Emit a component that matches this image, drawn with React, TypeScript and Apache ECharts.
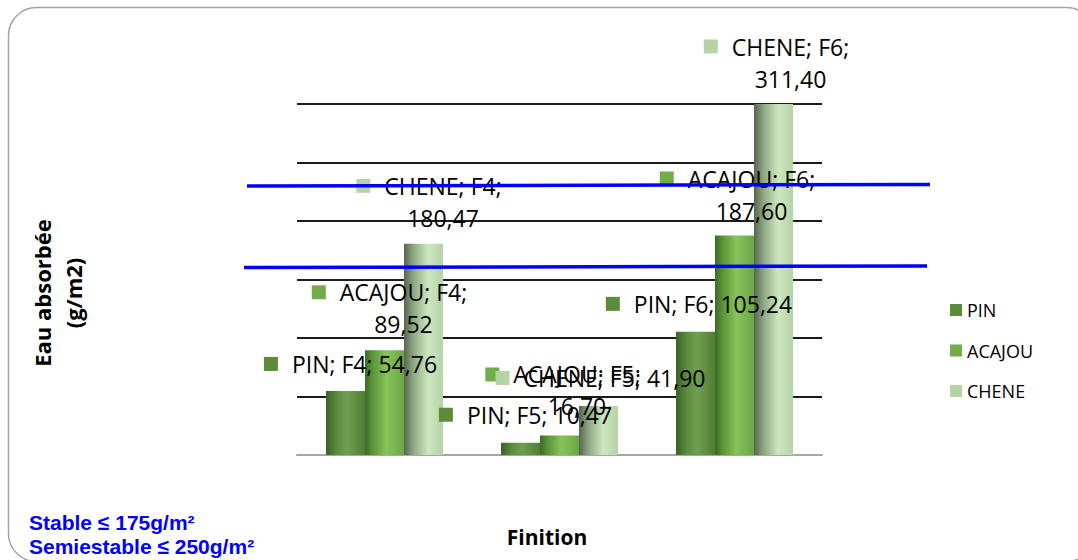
import { useEffect, useRef } from 'react';
import * as echarts from 'echarts';

// ---- data ----
const categories = ['F4', 'F5', 'F6'];
const seriesNames = ['PIN', 'ACAJOU', 'CHENE'];
const pinValues = [54.76, 10.47, 105.24];
const acajouValues = [89.52, 16.7, 187.6];
const cheneValues = [180.47, 41.9, 311.4];
const yMin = 0;
const yMax = 300;
const yInterval = 50;
const yTitle = 'Eau absorbée\n(g/m2)';
const xTitle = 'Finition';
const thresholdNotes = ['Stable ≤ 175g/m²', 'Semiestable ≤ 250g/m²'];

// ---- styles / layout ----
const LEGEND_COLORS: Record<string, string> = {
  PIN: '#5b8c3a',
  ACAJOU: '#70ad47',
  CHENE: '#b6d3a8',
};
const BAR_STOPS: Record<string, [number, string][]> = {
  PIN: [[0, '#3a6226'], [0.3, '#5e8f40'], [0.55, '#6f9f50'], [1, '#4f7d35']],
  ACAJOU: [[0, '#3d6b27'], [0.2, '#5a9538'], [0.55, '#88c35c'], [1, '#6aa744']],
  CHENE: [[0, '#56664e'], [0.25, '#8fa986'], [0.62, '#cde7c0'], [1, '#b5d3a6']],
};
const LABEL_LAYOUT: Record<string, { dx: number; dy: number; wrap: boolean }[]> = {
  PIN: [
    { dx: 5, dy: -27, wrap: false },
    { dx: 5, dy: -28, wrap: false },
    { dx: 3.5, dy: -28, wrap: false },
  ],
  ACAJOU: [
    { dx: 19, dy: -42, wrap: true },
    { dx: 17.5, dy: -45, wrap: true },
    { dx: 17, dy: -41, wrap: true },
  ],
  CHENE: [
    { dx: 19.5, dy: -42, wrap: true },
    { dx: 2, dy: -28, wrap: false },
    { dx: 17, dy: -41.5, wrap: true },
  ],
};
const LABEL_FONT = '"Open Sans", "Noto Sans", sans-serif';

const valuesByName: Record<string, number[]> = {
  PIN: pinValues,
  ACAJOU: acajouValues,
  CHENE: cheneValues,
};

const fmt = (v: number) => v.toFixed(2).replace('.', ',');

export default function App() {
  const ref = useRef<HTMLDivElement>(null);

  useEffect(() => {
    if (!ref.current) return;
    const chart = echarts.init(ref.current, undefined, { renderer: 'svg' });

    const series = seriesNames.map((name) => {
      const stops = BAR_STOPS[name];
      return {
        name,
        type: 'bar',
        barWidth: 39,
        barGap: '0%',
        clip: true,
        itemStyle: {
          color: new echarts.graphic.LinearGradient(
            0, 0, 1, 0,
            stops.map(([offset, color]) => ({ offset, color }))
          ),
        },
        label: {
          show: true,
          position: 'top',
          distance: 0,
          align: 'center',
          verticalAlign: 'middle',
          color: '#000',
          fontFamily: LABEL_FONT,
          fontSize: 23,
          lineHeight: 32,
          formatter: (p: any) => {
            const lay = LABEL_LAYOUT[name][p.dataIndex];
            const txt = `${name}; ${categories[p.dataIndex]};`;
            const val = fmt(p.value);
            if (lay.wrap) {
              return `{sq|}{g|}{t|${txt}}{sp|}\n{t|${val}}`;
            }
            return `{sq|}{g|}{t|${txt} ${val}}`;
          },
          rich: {
            sq: {
              width: 14,
              height: 14,
              backgroundColor: LEGEND_COLORS[name],
              verticalAlign: 'middle',
            },
            g: { width: 14, height: 14 },
            sp: { width: 28, height: 14 },
            t: {
              fontFamily: LABEL_FONT,
              fontSize: 23,
              lineHeight: 32,
              color: '#000',
            },
          },
        },
        data: valuesByName[name].map((v, i) => ({
          value: v,
          label: { offset: [LABEL_LAYOUT[name][i].dx, LABEL_LAYOUT[name][i].dy] },
        })),
      };
    });

    chart.setOption({
      animation: false,
      grid: { left: 297, right: 256, top: 104, bottom: 105, containLabel: false },
      xAxis: {
        type: 'category',
        data: categories,
        axisLabel: { show: false },
        axisTick: { show: false },
        axisLine: { show: true, lineStyle: { color: '#a6a6a6', width: 2 } },
      },
      yAxis: {
        type: 'value',
        min: yMin,
        max: yMax,
        interval: yInterval,
        axisLabel: { show: false },
        axisTick: { show: false },
        axisLine: { show: false },
        splitLine: {
          show: true,
          showMinLine: false,
          lineStyle: { color: '#1a1a1a', width: 2 },
        },
      },
      legend: {
        orient: 'vertical',
        left: 950,
        top: 300,
        padding: 0,
        icon: 'rect',
        itemWidth: 12,
        itemHeight: 12,
        itemGap: 20.5,
        textStyle: {
          fontFamily: LABEL_FONT,
          fontSize: 18,
          lineHeight: 20,
          color: '#000',
        },
        data: seriesNames.map((n) => ({ name: n, itemStyle: { color: LEGEND_COLORS[n] } })),
      },
      graphic: [
        {
          type: 'rect',
          z: -10,
          silent: true,
          shape: { x: 8.5, y: 7.5, width: 1086, height: 554, r: 28 },
          style: { fill: 'none', stroke: '#a3a3a3', lineWidth: 1.5 },
        },
        {
          type: 'line',
          z: 100,
          shape: { x1: 247, y1: 186, x2: 930, y2: 184.5 },
          style: { stroke: '#0000ff', lineWidth: 3.5 },
        },
        {
          type: 'line',
          z: 100,
          shape: { x1: 244, y1: 267.5, x2: 927, y2: 266 },
          style: { stroke: '#0000ff', lineWidth: 3.5 },
        },
        {
          type: 'text',
          x: 57,
          y: 293,
          rotation: Math.PI / 2,
          style: {
            text: yTitle,
            font: 'bold 22px "Open Sans", sans-serif',
            lineHeight: 31,
            align: 'center',
            verticalAlign: 'middle',
            fill: '#000',
          },
        },
        {
          type: 'text',
          x: 547,
          y: 537,
          style: {
            text: xTitle,
            font: 'bold 21px "Open Sans", sans-serif',
            align: 'center',
            verticalAlign: 'middle',
            fill: '#000',
          },
        },
        ...thresholdNotes.map((t, i) => ({
          type: 'text',
          x: 29,
          y: 522 + i * 24,
          style: {
            text: t,
            font: 'bold 21px "Liberation Sans", Arial, sans-serif',
            align: 'left',
            verticalAlign: 'middle',
            fill: '#0000ff',
          },
        })),
      ],
      series,
    });

    return () => chart.dispose();
  }, []);

  return (
    <div
      ref={ref}
      style={{ position: 'absolute', left: 0, top: 0, width: 1078, height: 560, background: '#fff' }}
    />
  );
}
